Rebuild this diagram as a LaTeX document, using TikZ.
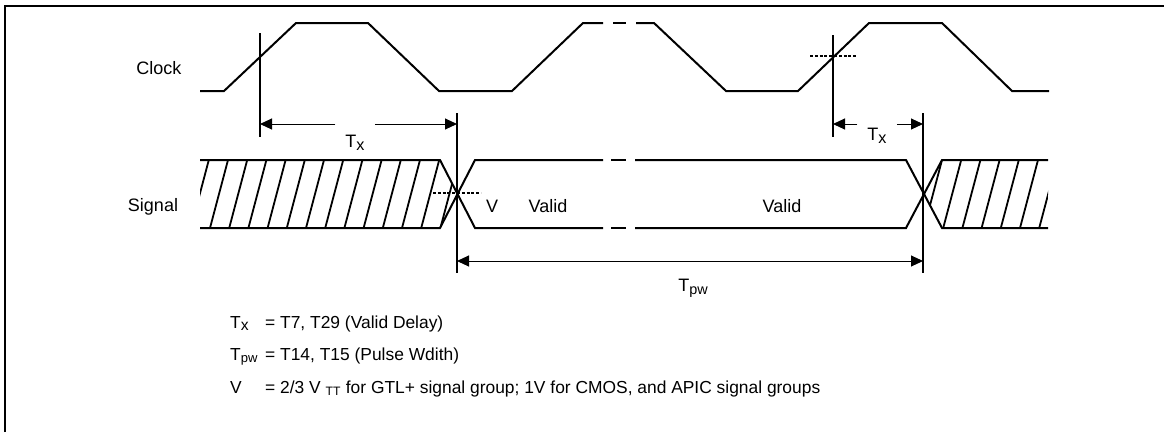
\documentclass[tikz,border=0pt]{standalone}
\usepackage{fontspec}
\setmainfont{Liberation Sans}
\usetikzlibrary{arrows.meta}
\newcommand{\lowr}[2][0.9]{\raisebox{-0.17em}{\scalebox{#1}{#2}}}
\tikzset{
  wave/.style={line width=2pt, line join=miter},
  hatch/.style={line width=1.8pt},
  marker/.style={line width=1.8pt},
  dimline/.style={line width=1pt, {Triangle[length=12pt,width=11pt]}-{Triangle[length=12pt,width=11pt]}},
  dimhalf/.style={line width=1pt, -{Triangle[length=12pt,width=11pt]}},
  lvl/.style={line width=1.3pt, dash pattern=on 3pt off 1.8pt},
  lbl/.style={font=\fontsize{18}{20}\selectfont, anchor=base, inner sep=0pt},
  dimlbl/.style={lbl, inner xsep=10pt},
  legend/.style={font=\fontsize{17.4}{20}\selectfont, anchor=base west, inner sep=0pt}
}
\begin{document}
\begin{tikzpicture}[x=1pt, y=-1pt]
  \useasboundingbox (0,0) rectangle (1164,432);
  % frame
  \coordinate (fbl) at (5,432);
  \coordinate (ftl) at (5,6);
  \coordinate (ftr) at (1164,6);
  \draw[line width=2pt] (fbl) -- (ftl) -- (ftr);

  % labels
  \node[lbl] (clk) at (159,74) {Clock};
  \node[lbl] (sig) at (153,211) {Signal};

  % clock
  \draw[wave] (200,91) -- (224,91) -- (296,23) -- (368,23) -- (439,91) -- (512,91) -- (583,23) -- (603,23);
  \draw[wave] (613,23) -- (626,23);
  \draw[wave] (636,23) -- (654,23) -- (726,91) -- (798,91) -- (869,23) -- (942,23) -- (1012,91) -- (1049,91);

  % signal
  \draw[wave] (200,160) -- (440,160) -- (475,228) -- (603,228);
  \draw[wave] (200,228) -- (440,228) -- (475,160) -- (603,160);
  \draw[wave] (611,160) -- (626,160);
  \draw[wave] (611,228) -- (626,228);
  \draw[wave] (635,160) -- (906,160) -- (942,228) -- (1048,228);
  \draw[wave] (635,228) -- (906,228) -- (942,160) -- (1048,160);
  \begin{scope}
    \clip (200,160) -- (440,160) -- (457.5,194) -- (440,228) -- (200,228) -- cycle;
    \foreach \k in {-1,...,12}
      \draw[hatch] ({210+19.2*\k},228) -- ++(18,-68);
  \end{scope}
  \begin{scope}
    \clip (924,194) -- (942,160) -- (1048,160) -- (1048,228) -- (942,228) -- cycle;
    \foreach \k in {0,...,6}
      \draw[hatch] ({924+19.2*\k},228) -- ++(18,-68);
  \end{scope}

  % timing markers
  \coordinate (m1t) at (260,33);
  \coordinate (m1b) at (260,137);
  \coordinate (m2t) at (457,113);
  \coordinate (m2b) at (457,273);
  \coordinate (m3t) at (833,35);
  \coordinate (m3b) at (833,137);
  \coordinate (m4t) at (923,113);
  \coordinate (m4b) at (923,273);
  \draw[marker] (m1t) -- (m1b);
  \draw[marker] (m2t) -- (m2b);
  \draw[marker] (m3t) -- (m3b);
  \draw[marker] (m4t) -- (m4b);

  % threshold levels
  \coordinate (v1l) at (810,56);
  \coordinate (v1r) at (857,56);
  \coordinate (v2l) at (433,193);
  \coordinate (v2r) at (481,193);
  \draw[lvl] (v1l) -- (v1r);
  \draw[lvl] (v2l) -- (v2r);

  % Tx
  \coordinate (txa) at (260,124);
  \coordinate (txb) at (457,124);
  \node[dimlbl] (tx1) at (355,147) {T\lowr{x}};
  \draw[dimhalf] (tx1.west |- txa) -- (txa);
  \draw[dimhalf] (tx1.east |- txb) -- (txb);
  \coordinate (txc) at (833,124);
  \coordinate (txd) at (923,124);
  \node[dimlbl] (tx2) at (877,140) {T\lowr{x}};
  \draw[dimhalf] (tx2.west |- txc) -- (txc);
  \draw[dimhalf] (tx2.east |- txd) -- (txd);

  % Tpw
  \coordinate (pwa) at (457,261);
  \coordinate (pwb) at (923,261);
  \draw[dimline] (pwa) -- (pwb);
  \node[lbl] (tpw) at (693,291) {T\lowr[0.8]{pw}};

  % bus texts
  \node[lbl] (vlev) at (492,212) {V};
  \node[lbl] (val1) at (548,212) {Valid};
  \node[lbl] (val2) at (782,212) {Valid};

  % legend
  \node[legend] (ltx) at (230,328) {T\lowr{x}};
  \node[legend] (etx) at (265,328) {= T7, T29 (Valid Delay)};
  \node[legend] (lpw) at (230,360) {T\lowr[0.75]{pw}};
  \node[legend] (epw) at (265,360) {= T14, T15 (Pulse Wdith)};
  \node[legend] (lv) at (230,393) {V};
  \node[legend] (ev) at (265,393) {= 2/3 V \textsubscript{TT} for GTL+ signal group; 1V for CMOS, and APIC signal groups};
\end{tikzpicture}
\end{document}
